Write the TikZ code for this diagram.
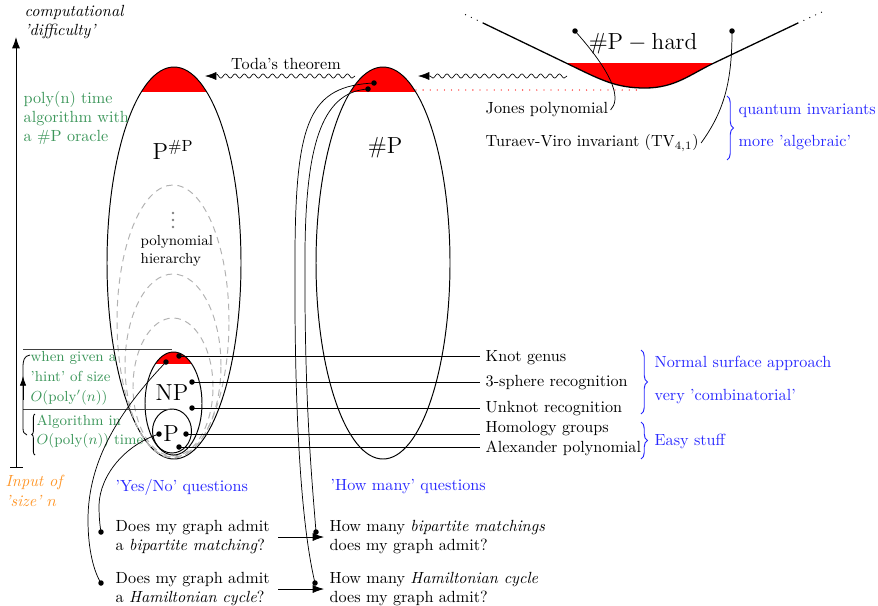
\documentclass[tikz,border=0pt]{standalone}
\usetikzlibrary{decorations.pathmorphing,decorations.pathreplacing,arrows.meta}
\definecolor{mygreen}{RGB}{60,150,90}
\definecolor{myblue}{RGB}{40,40,255}
\definecolor{myorange}{RGB}{255,150,40}
\begin{document}
\begin{tikzpicture}[x=0.619pt,y=-0.619pt,
  lbl/.style={anchor=west},
  bluetxt/.style={anchor=west,text=myblue},
  greentxt/.style={anchor=west,text=mygreen,align=left},
  bigell/.style={semithick},
  hier/.style={gray!60,line width=0.6pt,dash pattern=on 4pt off 3pt},
  wavy/.style={-{Latex[length=7pt,width=5pt]},decorate,decoration={snake,amplitude=1.3pt,segment length=5.8pt,post length=5pt}},
  conn/.style={line width=0.6pt},
  thincurve/.style={line width=0.45pt},
  bluebrace/.style={myblue,line width=0.6pt,decorate,decoration={brace,amplitude=4pt}},
  qarrow/.style={-{Latex[length=7pt,width=5pt]},line width=0.5pt},
  dotstyle/.style={circle,fill=black,inner sep=0pt,minimum size=3.4pt}
]
\useasboundingbox (0,0) rectangle (878,605);

% red caps
\begin{scope}
  \clip (0,0) rectangle (878,91);
  \fill[red] (174,263) ellipse [x radius=41.47pt, y radius=121.32pt];
  \fill[red] (383,263) ellipse [x radius=41.47pt, y radius=121.32pt];
\end{scope}
\begin{scope}
  \clip (0,300) rectangle (878,363);
  \fill[red] (173.5,403.5) ellipse [x radius=17.64pt, y radius=31.88pt];
\end{scope}
\fill[red] (566,63) .. controls (600,79.4) and (615,88) .. (645,88) .. controls (675,88) and (690,74.4) .. (714,63) -- cycle;

% #P-hard curve
\draw[thick] (483,23) -- (566,63) .. controls (600,79.4) and (615,88) .. (645,88) .. controls (675,88) and (690,74.4) .. (714,63) -- (798,23);
\draw[thick,line cap=round,dash pattern=on 0pt off 4pt] (483,23) -- (460,12);
\draw[thick,line cap=round,dash pattern=on 0pt off 4pt] (798,23) -- (822,12);
\node (hard) at (643,44) {\Large $\#\mathrm{P}-\mathrm{hard}$};
\draw[red,line width=0.8pt,line cap=round,dash pattern=on 0pt off 4.4pt] (416,90) -- (640,90);

% big ellipses
\draw[bigell] (174,263) ellipse [x radius=41.47pt, y radius=121.32pt];
\draw[bigell] (383,263) ellipse [x radius=41.47pt, y radius=121.32pt];

% polynomial hierarchy
\draw[hier] (173,321.5) ellipse [x radius=34.66pt, y radius=84.49pt];
\draw[hier] (173,365.5) ellipse [x radius=29.71pt, y radius=56.64pt];
\draw[hier] (173,387) ellipse [x radius=24.76pt, y radius=42.71pt];
\fill[gray] (173,213) circle (0.8pt) (173,220) circle (0.8pt) (173,227) circle (0.8pt);
\node[anchor=west,align=left,font=\small] (ph) at (135,251) {polynomial\\hierarchy};

% NP and P
\draw[bigell] (173.5,403.5) ellipse [x radius=17.64pt, y radius=31.88pt];
\draw[bigell] (172,431) ellipse [x radius=12.07pt, y radius=13.62pt];
\node (pspl) at (173,150) {\Large $\mathrm{P}^{\#\mathrm{P}}$};
\node (spl) at (385,148) {\Large $\#$P};
\node (npl) at (172,393) {\Large NP};
\node (pl) at (171,434) {\Large P};

% dots
\node[dotstyle] (dkg) at (179,356) {};
\node[dotstyle] (dnpr) at (166,362) {};
\node[dotstyle] (dsr) at (192,382) {};
\node[dotstyle] (dur) at (192,408) {};
\node[dotstyle] (dpl) at (159,434) {};
\node[dotstyle] (dhg) at (186,434) {};
\node[dotstyle] (dap) at (179,447) {};
\node[dotstyle] (dsp1) at (374,83) {};
\node[dotstyle] (dsp2) at (368,89) {};
\node[dotstyle] (djo) at (575,31) {};
\node[dotstyle] (dtv) at (732,31) {};
\node[dotstyle] (dq1) at (101,532) {};
\node[dotstyle] (dq2) at (101,583) {};
\node[dotstyle] (dh1) at (316,532) {};
\node[dotstyle] (dh2) at (315,583) {};

% right labels
\node[lbl] (kg) at (480,358) {Knot genus};
\node[lbl] (sr) at (480,383) {3-sphere recognition};
\node[lbl] (ur) at (480,409) {Unknot recognition};
\node[lbl] (hg) at (480,429) {Homology groups};
\node[lbl] (ap) at (480,448) {Alexander polynomial};
\draw[conn] (dkg.center) -- (dkg.center -| kg.west);
\draw[conn] (dsr.center) -- (dsr.center -| sr.west);
\draw[conn] (dur.center) -- (dur.center -| ur.west);
\draw[conn] (dhg.center) -- (dhg.center -| hg.west);
\draw[conn] (dap.center) -- (dap.center -| ap.west);

\node[lbl] (jo) at (480,110) {Jones polynomial};
\node[lbl] (tv) at (480,143) {Turaev-Viro invariant (TV$_{4,1}$)};
\draw[thincurve] ([xshift=-2pt]jo.east) .. controls (620,100) and (617,78) .. (djo.center);
\draw[thincurve] ([xshift=-2pt]tv.east) .. controls (725,110) and (732,80) .. (dtv.center);

% blue braces and texts
\draw[bluebrace] (641,350) -- (641,414);
\draw[bluebrace] (641,422) -- (641,459);
\draw[bluebrace] (727,96) -- (727,160);
\node[bluetxt] (nsa) at (649,363) {Normal surface approach};
\node[bluetxt] (vc) at (649,397) {very 'combinatorial'};
\node[bluetxt] (es) at (649,441) {Easy stuff};
\node[bluetxt] (qi) at (733,111) {quantum invariants};
\node[bluetxt] (ma) at (733,143) {more 'algebraic'};

% wavy arrows
\coordinate (t1) at (355,76);
\coordinate (t2) at (205,76);
\draw[wavy] (t1) -- (t2);
\node (toda) at (286,64) {Toda's theorem};
\coordinate (w1) at (567,76);
\coordinate (w2) at (418,76);
\draw[wavy] (w1) -- (w2);

% axis
\coordinate (ax0) at (16,467);
\coordinate (ax1) at (16,37);
\draw[line width=0.6pt,-{Latex[length=7pt,width=5pt]}] (ax0) -- (ax1);
\coordinate (tk0) at (10,467);
\coordinate (tk1) at (23,467);
\draw[line width=0.6pt] (tk0) -- (tk1);
\node[anchor=west,align=left,font=\itshape] (comp) at (19,22) {computational\\'difficulty'};
\node[greentxt] (orc) at (18,118) {poly(n) time\\algorithm with\\a \#P oracle};
\node[anchor=west,align=left,text=myorange,font=\itshape] (inp) at (0,491) {Input of\\'size' $n$};

% hint region
\draw[black!75,line width=0.5pt] (23,349) -- (172,349);
\draw[black!75,line width=0.5pt] (23,409) -- (172,409);
\draw[line width=0.5pt] (30,355) .. controls (24,356) and (23,360) .. (23,368) -- (23,428) .. controls (23,432) and (24,434) .. (27,435);
\draw[line width=0.5pt,-{Latex[length=6pt,width=4pt]}] (23,400) -- (23,376);
\draw[line width=0.5pt,decorate,decoration={brace,amplitude=2pt}] (35,455) -- (35,414);
\node[greentxt,font=\fontsize{9}{12.4}\selectfont] (hint) at (25,378) {when given a\\'hint' of size\\$O(\mathrm{poly}'(n))$};
\node[greentxt,font=\fontsize{9}{11.8}\selectfont] (alg) at (31,432) {Algorithm in\\$O(\mathrm{poly}(n))$ time};

% questions
\node[bluetxt] (yn) at (110,487) {'Yes/No' questions};
\node[bluetxt] (hm) at (325,487) {'How many' questions};
\node[anchor=west,align=left] (q1) at (110,537) {Does my graph admit\\a \textit{bipartite matching}?};
\node[anchor=west,align=left] (q2) at (110,589) {Does my graph admit\\a \textit{Hamiltonian cycle}?};
\node[anchor=west,align=left] (h1) at (324,537) {How many \textit{bipartite matchings}\\does my graph admit?};
\node[anchor=west,align=left] (h2) at (324,589) {How many \textit{Hamiltonian cycle}\\does my graph admit?};
\draw[qarrow,shorten <=2pt] (q1.east) -- (h1.west);
\draw[qarrow,shorten <=2pt] (q2.east) -- (h2.west);

% long curves
\draw[thincurve] (dsp1.center) .. controls (310,86) and (296,120) .. (295,250) .. controls (294,400) and (300,520) .. (dh2.center);
\draw[thincurve] (dsp2.center) .. controls (320,92) and (306,150) .. (305,250) .. controls (304,400) and (312,480) .. (dh1.center);
\draw[thincurve] (dnpr.center) .. controls (120,410) and (88,460) .. (88,520) .. controls (88,550) and (94,572) .. (dq2.center);
\draw[thincurve] (dpl.center) .. controls (125,445) and (100,475) .. (99,505) .. controls (99,518) and (100,526) .. (dq1.center);
\end{tikzpicture}
\end{document}
